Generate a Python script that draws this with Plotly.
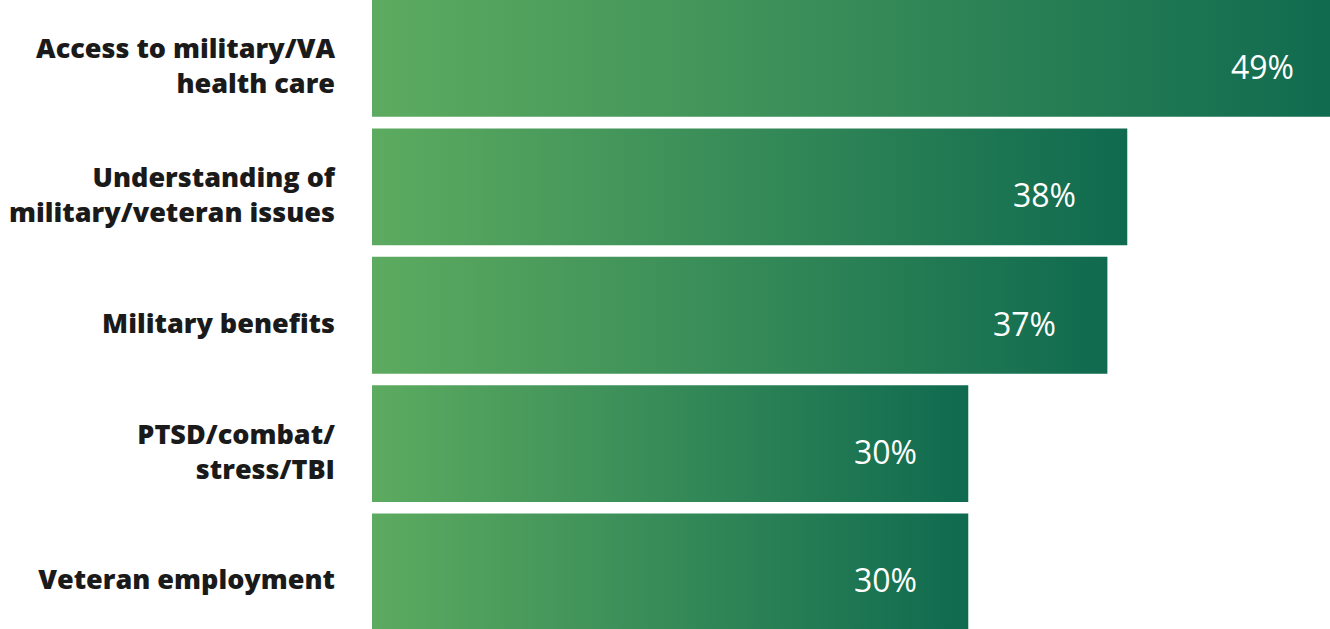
import plotly.graph_objects as go

categories = [
    "Access to military/VA<br>health care",
    "Understanding of<br>military/veteran issues",
    "Military benefits",
    "PTSD/combat/<br>stress/TBI",
    "Veteran employment",
]
values = [49, 38, 37, 30, 30]
value_labels = ["49%", "38%", "37%", "30%", "30%"]

LIGHT = "#5dab60"
DARK = "#0f6a4f"
BAR_HALF = 0.455
LABEL_INSET = 2.5  # value-label inset from bar end, in axis units

fig = go.Figure()
for i, (cat, v) in enumerate(zip(categories, values)):
    fig.add_trace(go.Scatter(
        x=[0, v, v, 0, 0],
        y=[i - BAR_HALF, i - BAR_HALF, i + BAR_HALF, i + BAR_HALF, i - BAR_HALF],
        mode="lines",
        line=dict(width=0),
        fill="toself",
        fillgradient=dict(type="horizontal", colorscale=[[0, LIGHT], [1, DARK]]),
        hoverinfo="skip",
        showlegend=False,
    ))

for i, (v, lab) in enumerate(zip(values, value_labels)):
    fig.add_annotation(
        x=v - LABEL_INSET, y=i, xref="x", yref="y", text=lab, showarrow=False,
        xanchor="right", yshift=-8,
        font=dict(family="Open Sans", size=32, color="white"),
    )

fig.update_layout(
    width=1330, height=629,
    margin=dict(l=372, r=0, t=0, b=0),
    paper_bgcolor="white", plot_bgcolor="white",
    xaxis=dict(range=[0, 48.2], visible=False, showgrid=False, zeroline=False,
               automargin=False),
    yaxis=dict(
        range=[4.444, -0.455],
        tickmode="array",
        tickvals=list(range(len(categories))),
        ticktext=categories,
        showgrid=False, zeroline=False, showline=False, automargin=False,
        ticks="", ticklabelstandoff=36, ticklabelshift=-8,
        tickfont=dict(family="Open Sans", size=27, weight=800, color="#1a1a1a"),
    ),
)

fig.write_html("out.html")
